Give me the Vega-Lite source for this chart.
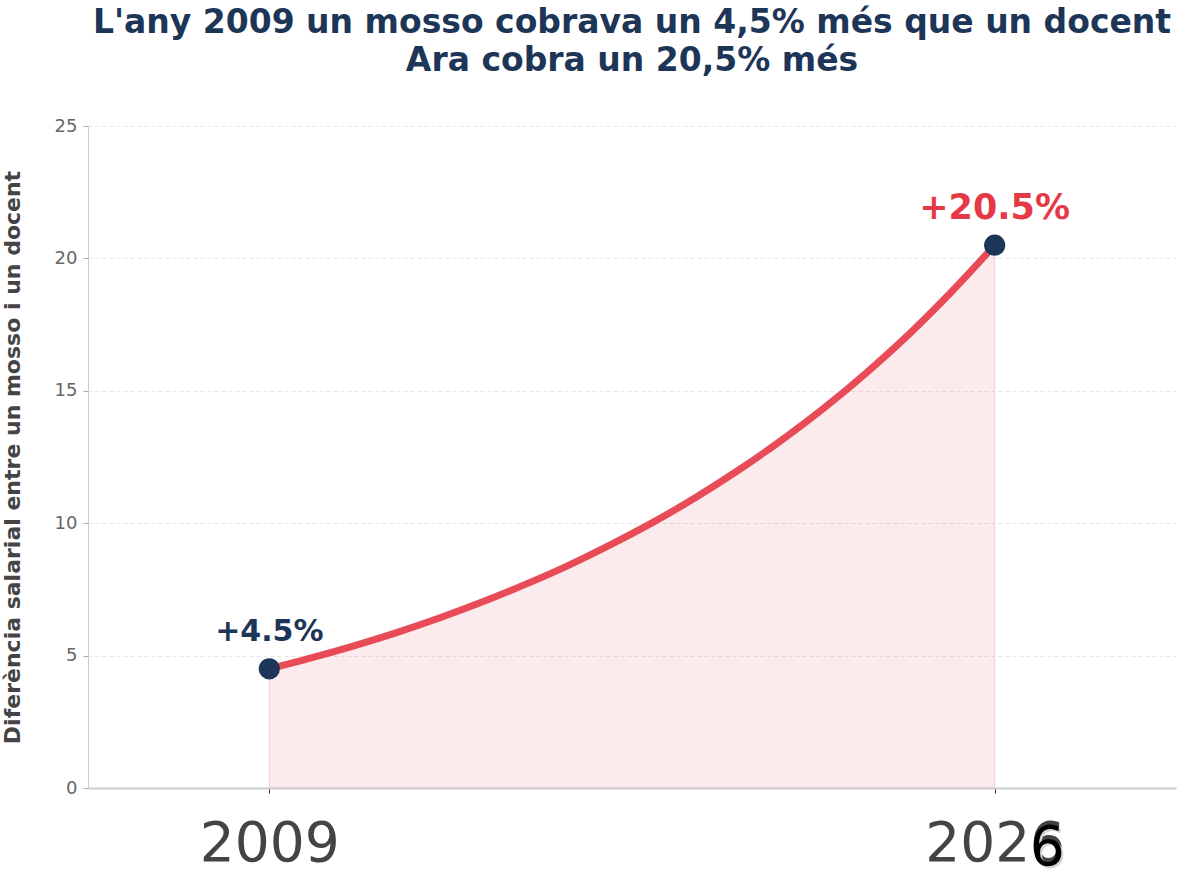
{
  "$schema": "https://vega.github.io/schema/vega-lite/v6.json",
  "width": 1088,
  "height": 662,
  "autosize": {"type": "none"},
  "padding": {"left": 88, "top": 126, "right": 9, "bottom": 108},
  "background": "white",
  "title": {
    "text": ["L'any 2009 un mosso cobrava un 4,5% més que un docent", "Ara cobra un 20,5% més"],
    "font": "DejaVu Sans",
    "fontSize": 33,
    "fontWeight": "bold",
    "color": "#1d3557",
    "anchor": "middle",
    "lineHeight": 38,
    "offset": 39
  },
  "datasets": {
    "curve": [
      {"year": 2009, "pct": 4.5},
      {"year": 2010, "pct": 4.92},
      {"year": 2011, "pct": 5.38},
      {"year": 2012, "pct": 5.88},
      {"year": 2013, "pct": 6.43},
      {"year": 2014, "pct": 7.03},
      {"year": 2015, "pct": 7.69},
      {"year": 2016, "pct": 8.4},
      {"year": 2017, "pct": 9.19},
      {"year": 2018, "pct": 10.04},
      {"year": 2019, "pct": 10.98},
      {"year": 2020, "pct": 12.01},
      {"year": 2021, "pct": 13.13},
      {"year": 2022, "pct": 14.35},
      {"year": 2023, "pct": 15.69},
      {"year": 2024, "pct": 17.15},
      {"year": 2025, "pct": 18.76},
      {"year": 2026, "pct": 20.5}
    ],
    "ends": [
      {"year": 2009, "pct": 4.5, "label": "+4.5%"},
      {"year": 2026, "pct": 20.5, "label": "+20.5%"}
    ]
  },
  "encoding": {
    "x": {
      "field": "year",
      "type": "quantitative",
      "scale": {"domain": [2004.75, 2030.25], "nice": false, "zero": false},
      "axis": {
        "values": [2009, 2026],
        "format": "d",
        "title": null,
        "grid": false,
        "labelFont": "DejaVu Sans",
        "labelFontSize": 55,
        "labelColor": "#444444",
        "labelPadding": 24,
        "tickColor": "#333333",
        "tickSize": 5,
        "domainColor": "#cccccc",
        "domainWidth": 2
      }
    },
    "y": {
      "field": "pct",
      "type": "quantitative",
      "scale": {"domain": [0, 25], "nice": false},
      "axis": {
        "values": [0, 5, 10, 15, 20, 25],
        "title": "Diferència salarial entre un mosso i un docent",
        "titleFont": "DejaVu Sans",
        "titleFontSize": 22,
        "titleFontWeight": "bold",
        "titleColor": "#444444",
        "titlePadding": 30,
        "labelFont": "DejaVu Sans",
        "labelFontSize": 18,
        "labelColor": "#666666",
        "labelPadding": 6,
        "tickColor": "#aaaaaa",
        "tickSize": 5,
        "domainColor": "#cccccc",
        "gridColor": "#e6e6e6",
        "gridDash": [4, 3],
        "gridWidth": 1
      }
    }
  },
  "layer": [
    {
      "data": {"name": "curve"},
      "mark": {"type": "area", "color": "#e63946", "opacity": 0.1, "interpolate": "monotone"}
    },
    {
      "data": {"name": "ends"},
      "mark": {"type": "rule", "color": "#f4cdd2", "strokeWidth": 1},
      "encoding": {"y2": {"datum": 0}}
    },
    {
      "data": {"name": "curve"},
      "mark": {"type": "line", "color": "#e63946", "opacity": 0.9, "strokeWidth": 7, "interpolate": "monotone", "strokeCap": "round"}
    },
    {
      "data": {"name": "ends"},
      "mark": {"type": "point", "filled": true, "color": "#1d3557", "opacity": 1, "size": 450}
    },
    {
      "data": {"name": "ends"},
      "transform": [{"filter": "datum.year == 2009"}],
      "mark": {"type": "text", "font": "DejaVu Sans", "fontWeight": "bold", "fontSize": 30, "color": "#1d3557", "baseline": "alphabetic", "dy": -28},
      "encoding": {"text": {"field": "label"}}
    },
    {
      "data": {"name": "ends"},
      "transform": [{"filter": "datum.year == 2026"}],
      "mark": {"type": "text", "font": "DejaVu Sans", "fontWeight": "bold", "fontSize": 35, "color": "#e63946", "baseline": "alphabetic", "dy": -26},
      "encoding": {"text": {"field": "label"}}
    },
    {
      "data": {"values": [{"year": 2026, "pct": 0, "d": "6"}]},
      "mark": {"type": "text", "font": "DejaVu Sans", "fontSize": 55, "color": "#d4d4d4", "baseline": "alphabetic", "align": "center", "dx": 54.5, "dy": 79},
      "encoding": {"text": {"field": "d"}}
    },
    {
      "data": {"values": [{"year": 2026, "pct": 0, "d": "6"}]},
      "mark": {"type": "text", "font": "DejaVu Sans", "fontSize": 55, "color": "#000000", "baseline": "alphabetic", "align": "center", "dx": 52.5, "dy": 77},
      "encoding": {"text": {"field": "d"}}
    }
  ],
  "config": {
    "view": {"stroke": null}
  }
}
